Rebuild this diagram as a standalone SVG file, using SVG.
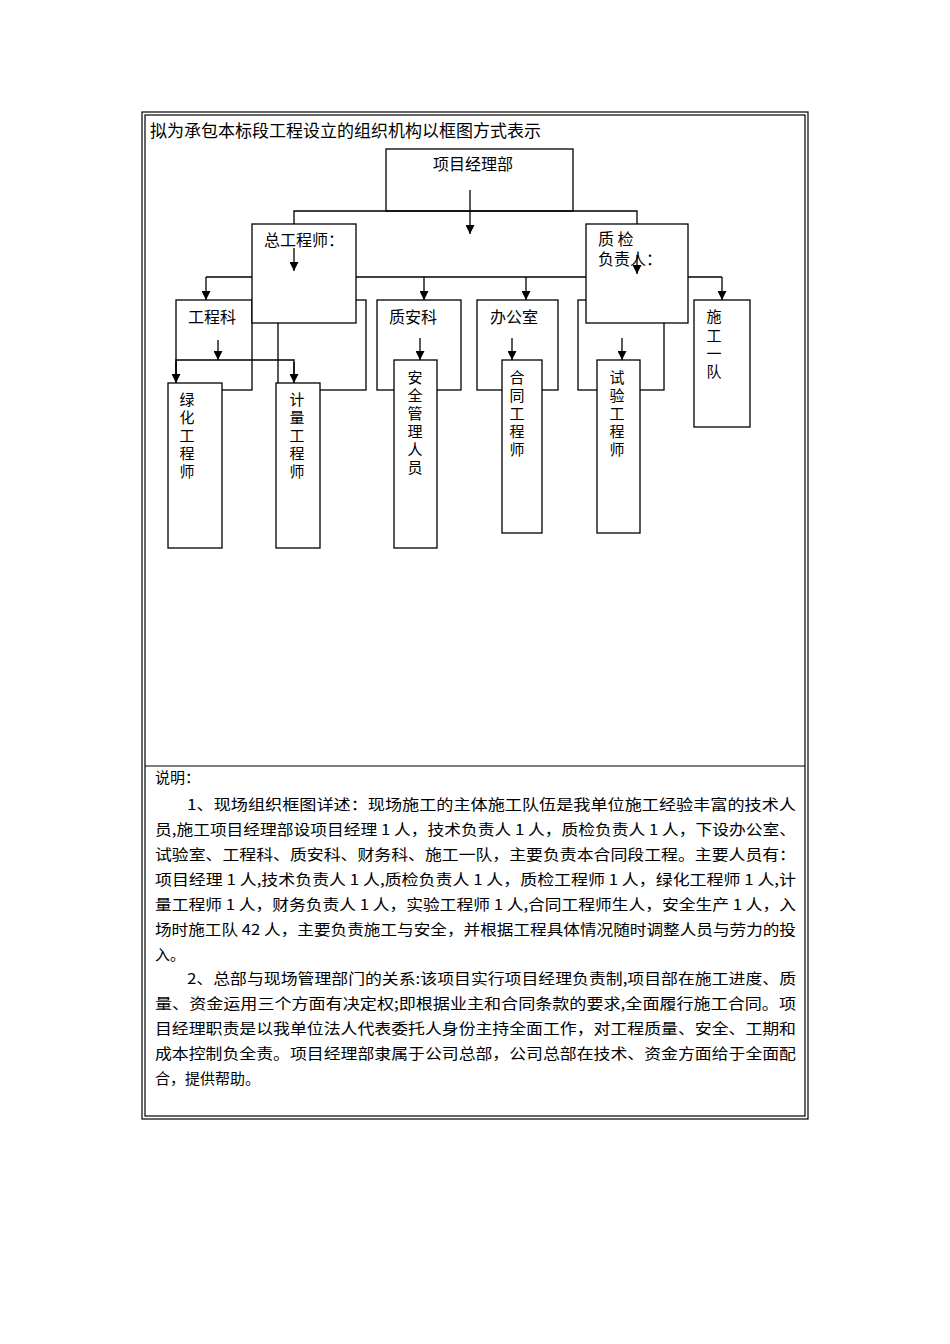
<svg xmlns="http://www.w3.org/2000/svg" width="950" height="1344" viewBox="0 0 950 1344">
<style>
.b{fill:#fff;stroke:#000;stroke-width:1.3}
.l{fill:none;stroke:#000;stroke-width:1.3}
text{font-family:"Noto Sans CJK SC","Liberation Serif",serif;fill:#000}
.t{font-size:15px}
.n{font-size:16px}
.v{font-size:15px;text-anchor:middle}
</style>
<defs>
<marker id="d" markerWidth="9" markerHeight="9" refX="10" refY="5" orient="auto" markerUnits="userSpaceOnUse" viewBox="0 0 10 10"><path d="M0,0 L10,5 L0,10 Z" fill="#000"/></marker></defs>
<rect x="0" y="0" width="950" height="1344" fill="#fff"/>
<g id="frame">
<rect x="142" y="112" width="666" height="1007" fill="none" stroke="#000" stroke-width="1.2"/>
<rect x="145" y="115" width="660" height="1001" fill="none" stroke="#000" stroke-width="1.2"/>
<line x1="145" y1="766" x2="805" y2="766" stroke="#000" stroke-width="1.2"/>
</g>
<text x="150" y="137" style="font-size:17px">拟为承包本标段工程设立的组织机构以框图方式表示</text>
<g id="bg-boxes">
<rect id="gck" class="b" x="176" y="300" width="76" height="90"/>
<rect id="bg2" class="b" x="278" y="300" width="88" height="90"/>
<rect id="zak" class="b" x="377" y="300" width="84" height="90"/>
<rect id="bgs" class="b" x="477" y="300" width="81" height="90"/>
<rect id="bg5" class="b" x="578" y="300" width="86" height="90"/>
</g>
<g id="connectors" class="l">
<polyline points="294,224 294,211 637,211 637,224"/>
<line x1="470" y1="190" x2="470" y2="234" marker-end="url(#d)"/>
<line x1="206" y1="277" x2="722" y2="277"/>
<line x1="206" y1="277" x2="206" y2="300" marker-end="url(#d)"/>
<line x1="424" y1="277" x2="424" y2="300" marker-end="url(#d)"/>
<line x1="526" y1="277" x2="526" y2="300" marker-end="url(#d)"/>
<line x1="722" y1="277" x2="722" y2="300" marker-end="url(#d)"/>
<line x1="218" y1="340" x2="218" y2="360" marker-end="url(#d)"/>
<polyline points="176,383 176,360 294,360 294,383"/>
<line x1="176" y1="362" x2="176" y2="383" marker-end="url(#d)"/>
<line x1="294" y1="362" x2="294" y2="383" marker-end="url(#d)"/>
<line x1="420" y1="338" x2="420" y2="360" marker-end="url(#d)"/>
<line x1="512" y1="338" x2="512" y2="360" marker-end="url(#d)"/>
<line x1="622" y1="338" x2="622" y2="360" marker-end="url(#d)"/>
</g>
<g id="xmjlb"><rect class="b" x="386" y="149" width="187" height="62" style="fill:none"/><text class="n" x="433" y="170">项目经理部</text></g>
<g id="zgcs"><rect class="b" x="252" y="224" width="104" height="99"/><text class="n" x="264" y="246">总工程师：</text></g>
<line x1="294" y1="248" x2="294" y2="271" stroke="#000" stroke-width="1.3" marker-end="url(#d)"/>
<g id="zjfzr"><rect class="b" x="586" y="224" width="102" height="99"/><text class="n" x="598" y="245">质 检</text><text class="n" x="598" y="265">负责人：</text></g>
<line x1="637" y1="255" x2="637" y2="274" stroke="#000" stroke-width="1.3" marker-end="url(#d)"/>
<text class="n" x="188" y="323">工程科</text>
<text class="n" x="389" y="323">质安科</text>
<text class="n" x="490" y="323">办公室</text>
<g id="lh"><rect class="b" x="168" y="383" width="54" height="165"/><text class="v" x="187" y="405">绿</text><text class="v" x="187" y="423">化</text><text class="v" x="187" y="441">工</text><text class="v" x="187" y="459">程</text><text class="v" x="187" y="477">师</text></g>
<g id="jl"><rect class="b" x="276" y="383" width="44" height="165"/><text class="v" x="297" y="405">计</text><text class="v" x="297" y="423">量</text><text class="v" x="297" y="441">工</text><text class="v" x="297" y="459">程</text><text class="v" x="297" y="477">师</text></g>
<g id="aq"><rect class="b" x="394" y="360" width="43" height="188"/><text class="v" x="415" y="383">安</text><text class="v" x="415" y="401">全</text><text class="v" x="415" y="419">管</text><text class="v" x="415" y="437">理</text><text class="v" x="415" y="455">人</text><text class="v" x="415" y="473">员</text></g>
<g id="ht"><rect class="b" x="502" y="360" width="40" height="173"/><text class="v" x="517" y="383">合</text><text class="v" x="517" y="401">同</text><text class="v" x="517" y="419">工</text><text class="v" x="517" y="437">程</text><text class="v" x="517" y="455">师</text></g>
<g id="sy"><rect class="b" x="597" y="360" width="43" height="173"/><text class="v" x="617" y="383">试</text><text class="v" x="617" y="401">验</text><text class="v" x="617" y="419">工</text><text class="v" x="617" y="437">程</text><text class="v" x="617" y="455">师</text></g>
<g id="sgyd"><rect class="b" x="694" y="300" width="56" height="127"/><text class="v" x="714" y="322">施</text><text class="v" x="714" y="341">工</text><text class="v" x="714" y="359">一</text><text class="v" x="714" y="377">队</text></g>
<g id="desc" class="t">
<text x="155" y="783">说明：</text>
<text x="187" y="810" textLength="609" lengthAdjust="spacingAndGlyphs">1、现场组织框图详述：现场施工的主体施工队伍是我单位施工经验丰富的技术人</text>
<text x="155" y="835" textLength="641" lengthAdjust="spacingAndGlyphs">员,施工项目经理部设项目经理 1 人，技术负责人 1 人，质检负责人 1 人，下设办公室、</text>
<text x="155" y="860" textLength="641" lengthAdjust="spacingAndGlyphs">试验室、工程科、质安科、财务科、施工一队，主要负责本合同段工程。主要人员有：</text>
<text x="155" y="885" textLength="641" lengthAdjust="spacingAndGlyphs">项目经理 1 人,技术负责人 1 人,质检负责人 1 人，质检工程师 1 人，绿化工程师 1 人,计</text>
<text x="155" y="910" textLength="641" lengthAdjust="spacingAndGlyphs">量工程师 1 人，财务负责人 1 人，实验工程师 1 人,合同工程师生人，安全生产 1 人，入</text>
<text x="155" y="935" textLength="641" lengthAdjust="spacingAndGlyphs">场时施工队 42 人，主要负责施工与安全，并根据工程具体情况随时调整人员与劳力的投</text>
<text x="155" y="960">入。</text>
<text x="187" y="984" textLength="609" lengthAdjust="spacingAndGlyphs">2、总部与现场管理部门的关系:该项目实行项目经理负责制,项目部在施工进度、质</text>
<text x="155" y="1009" textLength="641" lengthAdjust="spacingAndGlyphs">量、资金运用三个方面有决定权;即根据业主和合同条款的要求,全面履行施工合同。项</text>
<text x="155" y="1034" textLength="641" lengthAdjust="spacingAndGlyphs">目经理职责是以我单位法人代表委托人身份主持全面工作，对工程质量、安全、工期和</text>
<text x="155" y="1059" textLength="641" lengthAdjust="spacingAndGlyphs">成本控制负全责。项目经理部隶属于公司总部，公司总部在技术、资金方面给于全面配</text>
<text x="155" y="1084">合，提供帮助。</text>
</g>
</svg>
